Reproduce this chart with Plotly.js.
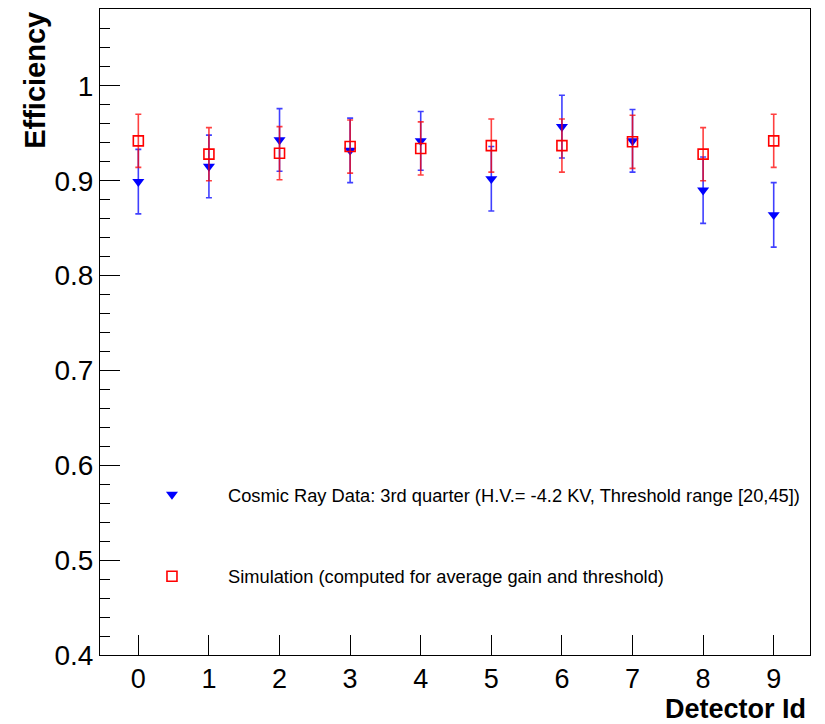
<!DOCTYPE html>
<html>
<head>
<meta charset="utf-8">
<script src="https://cdn.plot.ly/plotly-3.0.1.min.js"></script>
<style>html,body{margin:0;padding:0;background:#fff;}#chart{width:825px;height:724px;}</style>
</head>
<body>
<div id="chart"></div>
<script>
const detectors = [0, 1, 2, 3, 4, 5, 6, 7, 8, 9];
const dataEff = [0.899, 0.915, 0.943, 0.932, 0.942, 0.902, 0.957, 0.942, 0.890, 0.864];
const dataErr = [0.034, 0.033, 0.033, 0.034, 0.031, 0.034, 0.033, 0.033, 0.035, 0.034];
const simEff = [0.942, 0.928, 0.929, 0.936, 0.934, 0.937, 0.937, 0.941, 0.928, 0.942];
const simErr = [0.028, 0.028, 0.028, 0.028, 0.028, 0.028, 0.028, 0.028, 0.028, 0.028];
const xTickLabels = ['0', '1', '2', '3', '4', '5', '6', '7', '8', '9'];
const dataName = 'Cosmic Ray Data: 3rd quarter (H.V.= -4.2 KV, Threshold range [20,45])';
const simName = 'Simulation (computed for average gain and threshold)';

const font = 'Liberation Sans, Arial, Helvetica, sans-serif';

const traces = [
  {
    x: detectors, y: dataEff, name: dataName, type: 'scatter', mode: 'markers',
    legendgroup: 'a',
    marker: {symbol: 'triangle-down', size: 10.5, color: '#0000ff'},
    error_y: {type: 'data', array: dataErr, visible: true, color: 'rgba(0,0,255,0.75)', thickness: 1.6, width: 3}
  },
  {
    x: detectors, y: simEff, name: simName, type: 'scatter', mode: 'markers',
    legendgroup: 'b',
    marker: {symbol: 'square-open', size: 10, color: '#ff0000', line: {width: 1.6, color: '#ff0000'}},
    error_y: {type: 'data', array: simErr, visible: true, color: 'rgba(255,0,0,0.75)', thickness: 1.6, width: 3}
  }
];

const layout = {
  width: 825, height: 724,
  margin: {l: 100, r: 15, t: 9, b: 69},
  paper_bgcolor: '#ffffff', plot_bgcolor: '#ffffff',
  font: {family: font, color: '#000000'},
  showlegend: true,
  legend: {
    x: 0.0225, y: 0.277, xanchor: 'left', yanchor: 'top',
    itemwidth: 102, traceorder: 'grouped', tracegroupgap: 55,
    bgcolor: 'rgba(0,0,0,0)', borderwidth: 0,
    font: {family: font, size: 18.3, color: '#000000'}
  },
  xaxis: {
    range: [-0.543, 9.514],
    tickmode: 'array', tickvals: detectors, ticktext: xTickLabels,
    ticks: 'inside', ticklen: 20, tickwidth: 1, tickcolor: '#000',
    showline: true, linecolor: '#000', linewidth: 1, mirror: true,
    showgrid: false, zeroline: false,
    tickfont: {family: font, size: 27, color: '#000'}
  },
  yaxis: {
    range: [0.4, 1.081],
    dtick: 0.1, tick0: 0.4,
    ticks: 'inside', ticklen: 20, tickwidth: 1, tickcolor: '#000',
    minor: {dtick: 0.02, ticks: 'inside', ticklen: 10, tickcolor: '#000', showgrid: false},
    showline: true, linecolor: '#000', linewidth: 1, mirror: true,
    showgrid: false, zeroline: false,
    tickfont: {family: font, size: 28, color: '#000'}
  },
  annotations: [
    {text: '<b>Efficiency</b>', xref: 'paper', yref: 'paper', x: -0.0915, y: 0.998,
     xanchor: 'center', yanchor: 'top', textangle: -90, showarrow: false,
     font: {family: font, size: 29, color: '#000'}},
    {text: '<b>Detector Id</b>', xref: 'paper', yref: 'paper', x: 0.997, y: -0.0835,
     xanchor: 'right', yanchor: 'middle', showarrow: false,
     font: {family: font, size: 27, color: '#000'}}
  ]
};

Plotly.newPlot('chart', traces, layout, {displayModeBar: false, staticPlot: true});
</script>
</body>
</html>
